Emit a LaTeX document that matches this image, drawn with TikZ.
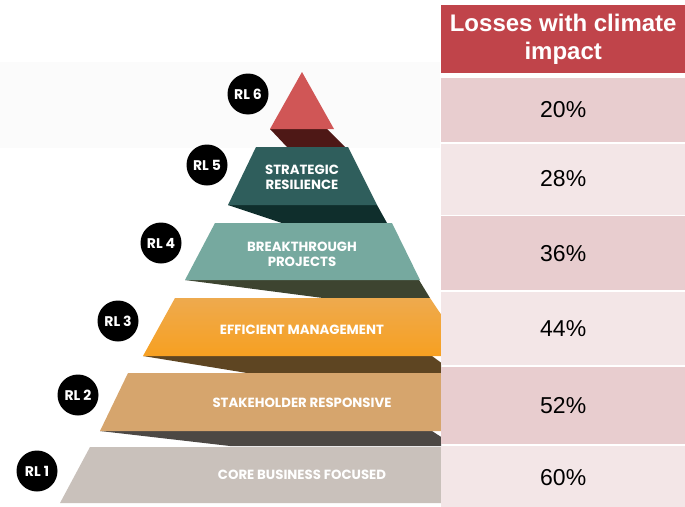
\documentclass[tikz,border=0pt]{standalone}
\usepackage{fontspec}
\setmainfont{Liberation Sans}
\newfontfamily\pyrfont{Poppins}
\usepackage{tikz}
\usetikzlibrary{positioning}
\usepackage{xcolor}
\definecolor{hdrred}{HTML}{C0444A}
\definecolor{rowdark}{HTML}{E8CDCF}
\definecolor{rowlight}{HTML}{F3E6E7}
\definecolor{bandgray}{HTML}{FBFBFB}
\definecolor{topred}{HTML}{D05656}
\definecolor{topshade}{HTML}{4E1816}
\definecolor{stratteal}{HTML}{2F5E5C}
\definecolor{stratshade}{HTML}{0F2E2C}
\definecolor{breakteal}{HTML}{76A99F}
\definecolor{breakshade}{HTML}{3D4430}
\definecolor{efftop}{HTML}{EEAA4E}
\definecolor{effbot}{HTML}{F7A021}
\definecolor{effshade}{HTML}{5E4522}
\definecolor{staketan}{HTML}{D6A56D}
\definecolor{stakeshade}{HTML}{4C4844}
\definecolor{coregray}{HTML}{C9C1BB}
\tikzset{%
	rl badge/.style={
		circle,
		fill=black,
		minimum size=41pt,
		inner sep=0pt,
		text=white,
		font=\pyrfont\bfseries\fontsize{14}{14}\selectfont
	},
	level label/.style={
		text=white,
		align=center,
		font=\pyrfont\bfseries\fontsize{13.3}{15}\selectfont
	},
	head cell/.style={
		fill=hdrred,
		text=white,
		align=center,
		minimum width=244pt,
		minimum height=68pt,
		inner sep=0pt,
		font=\bfseries\fontsize{24}{28}\selectfont
	},
	row cell/.style={
		minimum width=244pt,
		inner sep=0pt,
		font=\fontsize{23}{23}\selectfont
	},
}
\begin{document}
\begin{tikzpicture}[x=1pt, y=-1pt]
			\useasboundingbox (0,0) rectangle (685,506);
			\fill[bandgray] (0,62) rectangle (440,148);
			
			\begin{scope}
			\clip (0,0) rectangle (441,506);
			% shadows between the levels
			\fill[topshade] (270,129) -- (327,129) -- (345,147) -- (287,147) -- cycle;
			\fill[stratshade] (228,205) -- (377,205) -- (387,223) -- (282,223) -- cycle;
			\fill[breakshade] (185,280) -- (419,280) -- (430,298) -- (323,298) -- cycle;
			\fill[effshade] (143,356) -- (432,356) -- (455,373) -- (247,373) -- cycle;
			\fill[stakeshade] (100,431) -- (432,431) -- (455,446) -- (230,446) -- cycle;
			
			% levels
			\fill[topred] (302,72) -- (334,129) -- (270,129) -- cycle;
			\fill[stratteal] (256,147) -- (348,147) -- (377,205) -- (228,205) -- cycle;
			\fill[breakteal] (215,223) -- (392,223) -- (420,280) -- (185,280) -- cycle;
			\shade[top color=efftop, bottom color=effbot] (175,298) -- (430,298) -- (469,356) -- (143,356) -- cycle;
			\fill[staketan] (128,373) -- (445,373) -- (475,431) -- (100,431) -- cycle;
			\fill[coregray] (90,447) -- (450,447) -- (480,503) -- (60,503) -- cycle;
			\end{scope}
			
			\node[level label] (strat) at (302,177) {STRATEGIC\\RESILIENCE};
			\node[level label] (break) at (302,254) {BREAKTHROUGH\\PROJECTS};
			\node[level label] (eff) at (302,330) {EFFICIENT MANAGEMENT};
			\node[level label] (stake) at (302,403) {STAKEHOLDER RESPONSIVE};
			\node[level label] (core) at (302,475) {CORE BUSINESS FOCUSED};
			
			\node[rl badge] (rl6) at (248,94) {RL 6};
			\node[rl badge] (rl5) at (207,165) {RL 5};
			\node[rl badge] (rl4) at (161,243) {RL 4};
			\node[rl badge] (rl3) at (118,321) {RL 3};
			\node[rl badge] (rl2) at (78,395) {RL 2};
			\node[rl badge] (rl1) at (37,471) {RL 1};
			
			% table on the right
			\node[head cell, anchor=north west] (head) at (441,5) {Losses with climate\\impact};
			\node[row cell, fill=rowdark, minimum height=64pt, below=4pt of head] (loss6) {20\%};
			\node[row cell, fill=rowlight, minimum height=71pt, below=1.5pt of loss6] (loss5) {28\%};
			\node[row cell, fill=rowdark, minimum height=74pt, below=1.5pt of loss5] (loss4) {36\%};
			\node[row cell, fill=rowlight, minimum height=73pt, below=1.5pt of loss4] (loss3) {44\%};
			\node[row cell, fill=rowdark, minimum height=77pt, below=1.5pt of loss3] (loss2) {52\%};
			\node[row cell, fill=rowlight, minimum height=62.5pt, below=1.5pt of loss2] (loss1) {60\%};
			
		\end{tikzpicture}
\end{document}
